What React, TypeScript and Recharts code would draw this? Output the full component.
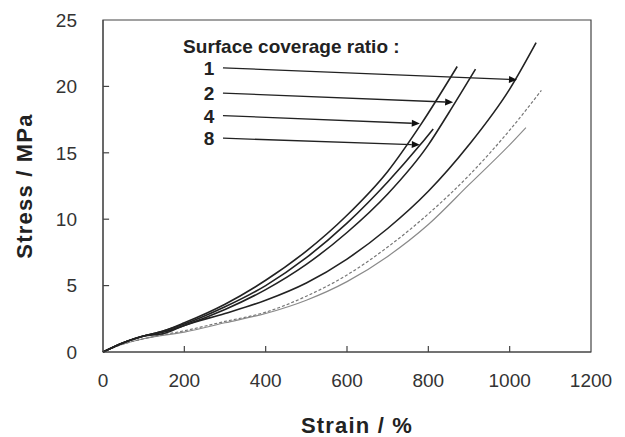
import { LineChart, Line, XAxis, YAxis, ReferenceArea, ReferenceLine, ReferenceDot } from 'recharts';

// stress-strain curves
const ratio1Strain = [0, 50, 100, 150, 200, 300, 400, 500, 600, 700, 800, 900, 1000, 1065];
const ratio1Stress = [0, 0.7, 1.2, 1.4, 2.0, 2.9, 3.9, 5.2, 7.0, 9.3, 12.1, 15.6, 19.8, 23.3];

const ratio2Strain = [0, 50, 100, 150, 200, 300, 400, 500, 600, 700, 800, 850, 916];
const ratio2Stress = [0, 0.7, 1.2, 1.5, 2.0, 3.2, 4.7, 6.6, 9.0, 11.9, 15.6, 18.0, 21.3];

const ratio4Strain = [0, 50, 100, 150, 200, 300, 400, 500, 600, 700, 783, 871];
const ratio4Stress = [0, 0.7, 1.2, 1.6, 2.2, 3.6, 5.4, 7.6, 10.3, 13.6, 17.2, 21.5];

const ratio8Strain = [0, 50, 100, 150, 200, 300, 400, 500, 600, 700, 780, 812];
const ratio8Stress = [0, 0.7, 1.2, 1.6, 2.1, 3.4, 5.0, 7.1, 9.7, 12.8, 15.6, 16.8];

const dashedStrain = [0, 50, 100, 200, 300, 400, 500, 600, 700, 800, 900, 1000, 1078];
const dashedStress = [0, 0.6, 1.0, 1.6, 2.3, 3.0, 4.2, 5.8, 7.9, 10.4, 13.3, 16.7, 19.7];

const grayStrain = [0, 50, 100, 200, 300, 400, 500, 600, 700, 800, 900, 1000, 1040];
const grayStress = [0, 0.6, 1.0, 1.5, 2.2, 2.9, 3.9, 5.3, 7.2, 9.6, 12.6, 15.6, 16.9];

const xTicks = [0, 200, 400, 600, 800, 1000, 1200];
const yTicks = [0, 5, 10, 15, 20, 25];
// inner tick marks (the axis ticks point into the plot)
const xInnerTicks = [200, 400, 600, 800, 1000];
const yInnerTicks = [5, 10, 15, 20];

// annotation arrows: label, start (strain, stress), end (strain, stress)
const arrowLabels = ['1', '2', '4', '8'];
const arrowFrom = [
  [295, 21.4],
  [295, 19.5],
  [295, 17.8],
  [295, 16.1],
];
const arrowTo = [
  [1018, 20.5],
  [861, 18.8],
  [779, 17.2],
  [779, 15.6],
];

const FONT = '"Liberation Sans", Arial, sans-serif';

const zip = (xs: number[], ys: number[]) => xs.map((x, i) => ({ x, y: ys[i] }));

function arrowShape(label: string) {
  return (p: any) => {
    const { x1, y1, x2, y2 } = p;
    const ang = Math.atan2(y2 - y1, x2 - x1);
    const len = 8;
    const w = 3.5;
    const bx = x2 - len * Math.cos(ang);
    const by = y2 - len * Math.sin(ang);
    const pts = [
      `${x2},${y2}`,
      `${bx + w * Math.sin(ang)},${by - w * Math.cos(ang)}`,
      `${bx - w * Math.sin(ang)},${by + w * Math.cos(ang)}`,
    ].join(' ');
    return (
      <g>
        <line x1={x1} y1={y1} x2={bx} y2={by} stroke="#222" strokeWidth={1.3} />
        <polygon points={pts} fill="#111" />
        <text x={x1 - 14} y={y1 + 7} textAnchor="middle" fontSize={19} fontWeight="bold" fill="#222" fontFamily={FONT}>
          {label}
        </text>
      </g>
    );
  };
}

export default function App() {
  return (
    <div style={{ position: 'absolute', left: 0, top: 0, width: 625, height: 437, background: '#fff' }}>
      <LineChart width={625} height={437} margin={{ top: 20, right: 34, left: 0, bottom: 0 }}>
        <XAxis
          type="number"
          dataKey="x"
          domain={[0, 1200]}
          ticks={xTicks}
          interval={0}
          height={85}
          stroke="#444"
          tickLine={false}
          tickMargin={16}
          tick={{ fill: '#333', fontSize: 19, fontFamily: FONT }}
          label={(props: any) => {
            const vb = props.viewBox;
            return (
              <text x={vb.x + vb.width / 2 + 10} y={433} textAnchor="middle" fontSize={22} letterSpacing={1.2} fontWeight="bold" fill="#222" fontFamily={FONT}>
                Strain / %
              </text>
            );
          }}
        />
        <YAxis
          type="number"
          dataKey="y"
          domain={[0, 25]}
          ticks={yTicks}
          interval={0}
          width={103}
          stroke="#444"
          tickLine={false}
          tickMargin={20}
          tick={{ fill: '#333', fontSize: 19, fontFamily: FONT }}
          label={(props: any) => {
            const vb = props.viewBox;
            const cy = vb.y + vb.height / 2;
            return (
              <text x={24} y={cy} transform={`rotate(-90 24 ${cy})`} textAnchor="middle" dominantBaseline="central" fontSize={22} letterSpacing={1.2} fontWeight="bold" fill="#222" fontFamily={FONT}>
                Stress / MPa
              </text>
            );
          }}
        />
        <ReferenceArea x1={0} x2={1200} y1={0} y2={25} fill="none" stroke="#444" strokeWidth={1.2} />
        {xInnerTicks.map((v) => (
          <ReferenceLine key={`xt${v}`} segment={[{ x: v, y: 0 }, { x: v, y: 0.45 }]} stroke="#444" strokeWidth={1.2} />
        ))}
        {yInnerTicks.map((v) => (
          <ReferenceLine key={`yt${v}`} segment={[{ x: 0, y: v }, { x: 15, y: v }]} stroke="#444" strokeWidth={1.2} />
        ))}

        <Line data={zip(grayStrain, grayStress)} dataKey="y" type="monotone" stroke="#8a8a8a" strokeWidth={1.2} dot={false} isAnimationActive={false} />
        <Line data={zip(dashedStrain, dashedStress)} dataKey="y" type="monotone" stroke="#777" strokeWidth={1.2} strokeDasharray="3 2" dot={false} isAnimationActive={false} />
        <Line data={zip(ratio1Strain, ratio1Stress)} dataKey="y" type="monotone" stroke="#222" strokeWidth={1.6} dot={false} isAnimationActive={false} />
        <Line data={zip(ratio2Strain, ratio2Stress)} dataKey="y" type="monotone" stroke="#222" strokeWidth={1.6} dot={false} isAnimationActive={false} />
        <Line data={zip(ratio4Strain, ratio4Stress)} dataKey="y" type="monotone" stroke="#222" strokeWidth={1.6} dot={false} isAnimationActive={false} />
        <Line data={zip(ratio8Strain, ratio8Stress)} dataKey="y" type="monotone" stroke="#222" strokeWidth={1.6} dot={false} isAnimationActive={false} />

        {arrowLabels.map((lab, i) => (
          <ReferenceLine
            key={lab}
            segment={[
              { x: arrowFrom[i][0], y: arrowFrom[i][1] },
              { x: arrowTo[i][0], y: arrowTo[i][1] },
            ]}
            shape={arrowShape(lab)}
          />
        ))}
        <ReferenceDot
          x={197}
          y={22.5}
          shape={(p: any) => (
            <text x={p.cx} y={p.cy} fontSize={19} fontWeight="bold" fill="#222" fontFamily={FONT}>
              Surface coverage ratio :
            </text>
          )}
        />
      </LineChart>
    </div>
  );
}
